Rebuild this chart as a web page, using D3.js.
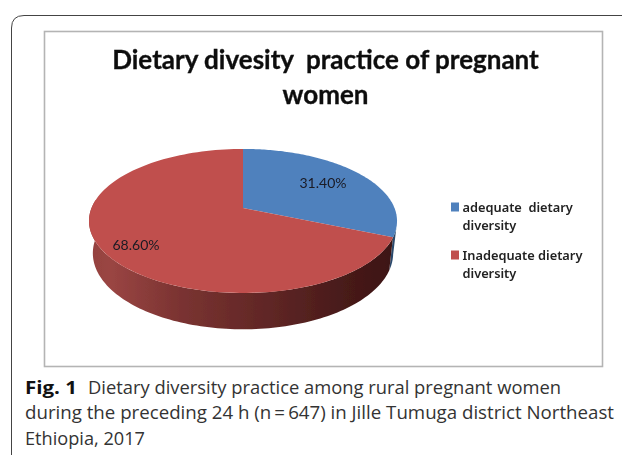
<!DOCTYPE html>
<html><head><meta charset="utf-8">
<style>html,body{margin:0;padding:0;background:#fff}svg{display:block}</style>
<script src="https://cdn.jsdelivr.net/npm/d3@7"></script></head>
<body><svg id="c" width="622" height="455"></svg>
<script>
const categories = ["adequate  dietary diversity", "Inadequate dietary diversity"];
const values = [31.4, 68.6];
const valueLabels = ["31.40%", "68.60%"];
const colors = ["#4f81bd", "#c0504d"];
const titleLines = ["Dietary divesity  practice of pregnant", "women"];
const legendLines = [["adequate  dietary", "diversity"], ["Inadequate dietary", "diversity"]];

const svg = d3.select("#c");
const defs = svg.append("defs");
defs.append("filter").attr("id","soft").append("feGaussianBlur").attr("stdDeviation",0.45);
const sideR = defs.append("linearGradient").attr("id","sideR");
[[0,"#94423f"],[0.07,"#9a4543"],[0.3,"#7a3331"],[0.6,"#5f2625"],[0.85,"#471a19"],[1,"#3d1514"]]
  .forEach(s=>sideR.append("stop").attr("offset",s[0]).attr("stop-color",s[1]));

// frame, open at right and bottom
svg.append("path").attr("d","M622,15.5H24Q11.5,15.5 11.5,28V455").attr("fill","none").attr("stroke","#444").attr("stroke-width",1);
svg.append("rect").attr("x",44.5).attr("y",31.5).attr("width",558).attr("height",335)
  .attr("fill","#fff").attr("stroke","#b4b4b4").attr("stroke-width",1.6);

const g = svg.append("g").attr("filter","url(#soft)");

// title
g.selectAll("text.title").data(titleLines).join("text").attr("class","title")
  .attr("x",325.5).attr("y",(d,i)=>69+i*35).attr("text-anchor","middle")
  .attr("font-family","Lato").attr("font-weight",700).attr("font-size",26)
  .attr("fill","#111").attr("stroke","#111").attr("stroke-width",0.35)
  .style("white-space","pre").text(d=>d);

// pie with perspective
const cx=243, cy=208, a=151.5, b=69.7, k=0.18, depth=31.5, shrink=0.975;
const px=(t,s)=>{const x=Math.sin(t),y=-Math.cos(t),w=1-k*y;return cx+(s?shrink:1)*a*x/w;};
const py=(t,s)=>{const y=-Math.cos(t),w=1-k*y;return cy+(s?shrink:1)*b*y/w+(s?depth/w:0);};
const line=d3.line();
const arcs=d3.pie().sort(null).startAngle(0).endAngle(2*Math.PI)(values);
const angles=(t0,t1)=>d3.range(0,121).map(i=>t0+(t1-t0)*i/120);
const wall=(t0,t1)=>line(angles(t0,t1).map(t=>[px(t),py(t)]).concat(angles(t1,t0).map(t=>[px(t,1),py(t,1)])))+"Z";

// side wall: only the part of the rim facing the viewer
const blue=arcs[0], red=arcs[1];
g.append("path").attr("d",wall(blue.endAngle-0.2,blue.endAngle)).attr("fill","#2c4a6c");
g.append("path").attr("d",wall(red.startAngle,3*Math.PI/2+0.12)).attr("fill","url(#sideR)");

// top slices
g.selectAll("path.slice").data(arcs).join("path").attr("class","slice")
  .attr("d",d=>line([[cx,cy]].concat(angles(d.startAngle,d.endAngle).map(t=>[px(t),py(t)])))+"Z")
  .attr("fill",(d,i)=>colors[i]);

// data labels
const labelPos=[[323,188],[136,250]];
g.selectAll("text.val").data(valueLabels).join("text").attr("class","val")
  .attr("x",(d,i)=>labelPos[i][0]).attr("y",(d,i)=>labelPos[i][1]).attr("text-anchor","middle")
  .attr("font-family","Lato").attr("font-size",14).attr("fill","#1a1a24").text(d=>d);

// legend
const legendY=[207,255];
categories.forEach((c,i)=>{
  g.append("rect").attr("x",451).attr("y",legendY[i]-4.5).attr("width",8).attr("height",9).attr("fill",colors[i]);
  g.selectAll(null).data(legendLines[i]).join("text")
    .attr("x",462.5).attr("y",(d,j)=>legendY[i]+4.5+j*18)
    .attr("font-family","Noto Sans").attr("font-weight",600).attr("font-size",12.8).attr("fill","#222")
    .style("white-space","pre").text(d=>d);
});

// caption
const cap=svg.append("g").attr("font-family","Open Sans").attr("font-size",18.5).attr("fill","#333");
cap.append("text").attr("x",25).attr("y",394).attr("font-weight",700).attr("fill","#111").attr("textLength",52).attr("lengthAdjust","spacingAndGlyphs").text("Fig. 1");
cap.append("text").attr("x",88).attr("y",394).attr("textLength",473).attr("lengthAdjust","spacingAndGlyphs").text("Dietary diversity practice among rural pregnant women");
cap.append("text").attr("x",25).attr("y",419).attr("textLength",589).attr("lengthAdjust","spacingAndGlyphs").text("during the preceding 24 h (n\u2009=\u2009647) in Jille Tumuga district Northeast");
cap.append("text").attr("x",25).attr("y",445).attr("textLength",120).attr("lengthAdjust","spacingAndGlyphs").text("Ethiopia, 2017");
</script></body></html>
